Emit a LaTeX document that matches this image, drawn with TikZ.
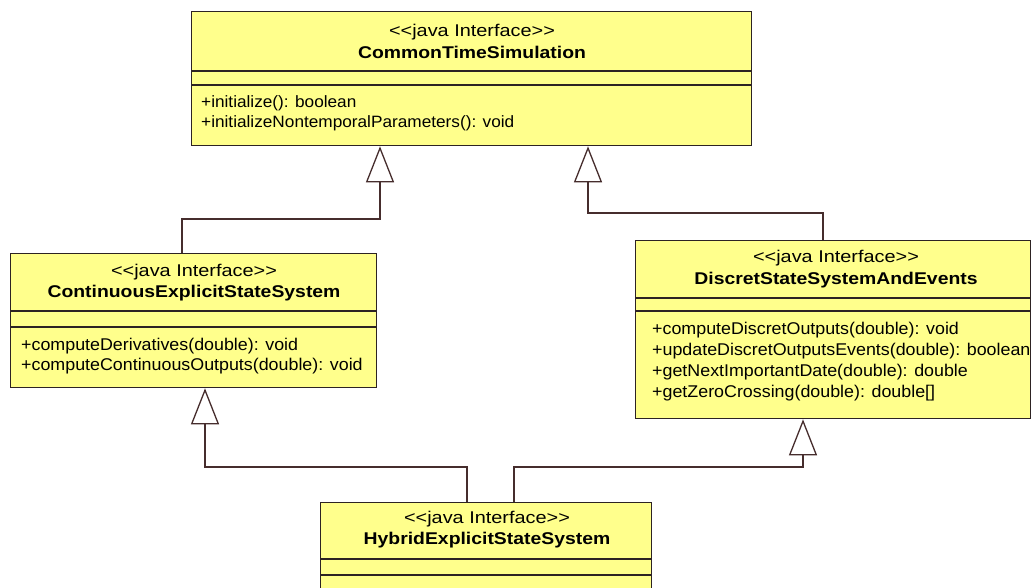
\documentclass[tikz,border=0pt]{standalone}
\usepackage{fontspec}
\setmainfont{Liberation Sans}
\newfontfamily\methfont{Liberation Sans}[FakeStretch=1.05]
\newfontfamily\stereofont{Liberation Sans}[FakeStretch=1.17]
\newfontfamily\namefont{Liberation Sans}[FakeStretch=1.14]
\usetikzlibrary{arrows.meta,calc}
\definecolor{boxfill}{RGB}{255,255,140}
\definecolor{boxline}{RGB}{45,35,35}
\definecolor{conline}{RGB}{70,45,45}
\tikzset{
  classbox/.style={draw=boxline, fill=boxfill, line width=1.3pt, rectangle, inner sep=0pt, anchor=north west},
  sepline/.style={draw=boxline, line width=1.3pt},
  stereo/.style={inner sep=0pt, anchor=center, font=\stereofont\fontsize{17}{19}\selectfont},
  cname/.style={inner sep=0pt, anchor=center, font=\namefont\bfseries\fontsize{17}{19}\selectfont},
  meth/.style={inner sep=0pt, anchor=west, font=\methfont\fontsize{17}{19}\selectfont},
  methtop/.style={inner sep=0pt, anchor=west, font=\methfont\fontsize{16.4}{19}\selectfont},
  inh/.style={draw=conline, line width=1.3pt, -{Triangle[length=36pt,width=28pt,fill=white,line width=1.3pt]}}
}
\begin{document}
\begin{tikzpicture}[x=1pt,y=-1pt]
\useasboundingbox (0,0) rectangle (1032,587);
\clip (0,0) rectangle (1032,587);
\fill[white] (0,0) rectangle (1032,587);

% Top box
\node[classbox, minimum width=560pt, minimum height=134pt] (ct) at (191,11) {};
\draw[sepline] (ct.west |- 0,71) -- (ct.east |- 0,71);
\draw[sepline] (ct.west |- 0,85) -- (ct.east |- 0,85);
\node[stereo] (cts) at (472,32) {<{}<java Interface>{}>};
\node[cname] (ctn) at (472,52) {CommonTimeSimulation};
\node[methtop] (ctm1) at (201,103) {+initialize(): boolean};
\node[methtop] (ctm2) at (201,123) {+initializeNontemporalParameters(): void};

% Left box
\node[classbox, minimum width=366pt, minimum height=134pt] (cl) at (10,253) {};
\draw[sepline] (cl.west |- 0,311) -- (cl.east |- 0,311);
\draw[sepline] (cl.west |- 0,327) -- (cl.east |- 0,327);
\node[stereo] (cls) at (194,272) {<{}<java Interface>{}>};
\node[cname] (cln) at (194,293) {ContinuousExplicitStateSystem};
\node[meth] (clm1) at (21,346) {+computeDerivatives(double): void};
\node[meth] (clm2) at (21,366) {+computeContinuousOutputs(double): void};

% Right box
\node[classbox, minimum width=395pt, minimum height=178pt] (cr) at (635,240) {};
\draw[sepline] (cr.west |- 0,298) -- (cr.east |- 0,298);
\draw[sepline] (cr.west |- 0,311) -- (cr.east |- 0,311);
\node[stereo] (crs) at (836,258) {<{}<java Interface>{}>};
\node[cname] (crn) at (836,280) {DiscretStateSystemAndEvents};
\node[meth] (crm1) at (652,330) {+computeDiscretOutputs(double): void};
\node[meth] (crm2) at (652,351) {+updateDiscretOutputsEvents(double): boolean};
\node[meth] (crm3) at (652,372) {+getNextImportantDate(double): double};
\node[meth] (crm4) at (652,393) {+getZeroCrossing(double): double[]};

% Bottom box
\node[classbox, minimum width=331pt, minimum height=110pt] (cb) at (320,502) {};
\draw[sepline] (cb.west |- 0,559) -- (cb.east |- 0,559);
\draw[sepline] (cb.west |- 0,575) -- (cb.east |- 0,575);
\node[stereo] (cbs) at (487,519) {<{}<java Interface>{}>};
\node[cname] (cbn) at (487,540) {HybridExplicitStateSystem};

% Generalizations
\draw[inh] ([xshift=172pt]cl.north west) -- ++(0,-34) -| ([xshift=189pt]ct.south west);
\draw[inh] ([xshift=188pt]cr.north west) -- ++(0,-27) -| ([xshift=397pt]ct.south west);
\draw[inh] ([xshift=147pt]cb.north west) -- ++(0,-35) -| ([xshift=195pt]cl.south west);
\draw[inh] ([xshift=194pt]cb.north west) -- ++(0,-35) -| ([xshift=168pt]cr.south west);
\end{tikzpicture}
\end{document}
